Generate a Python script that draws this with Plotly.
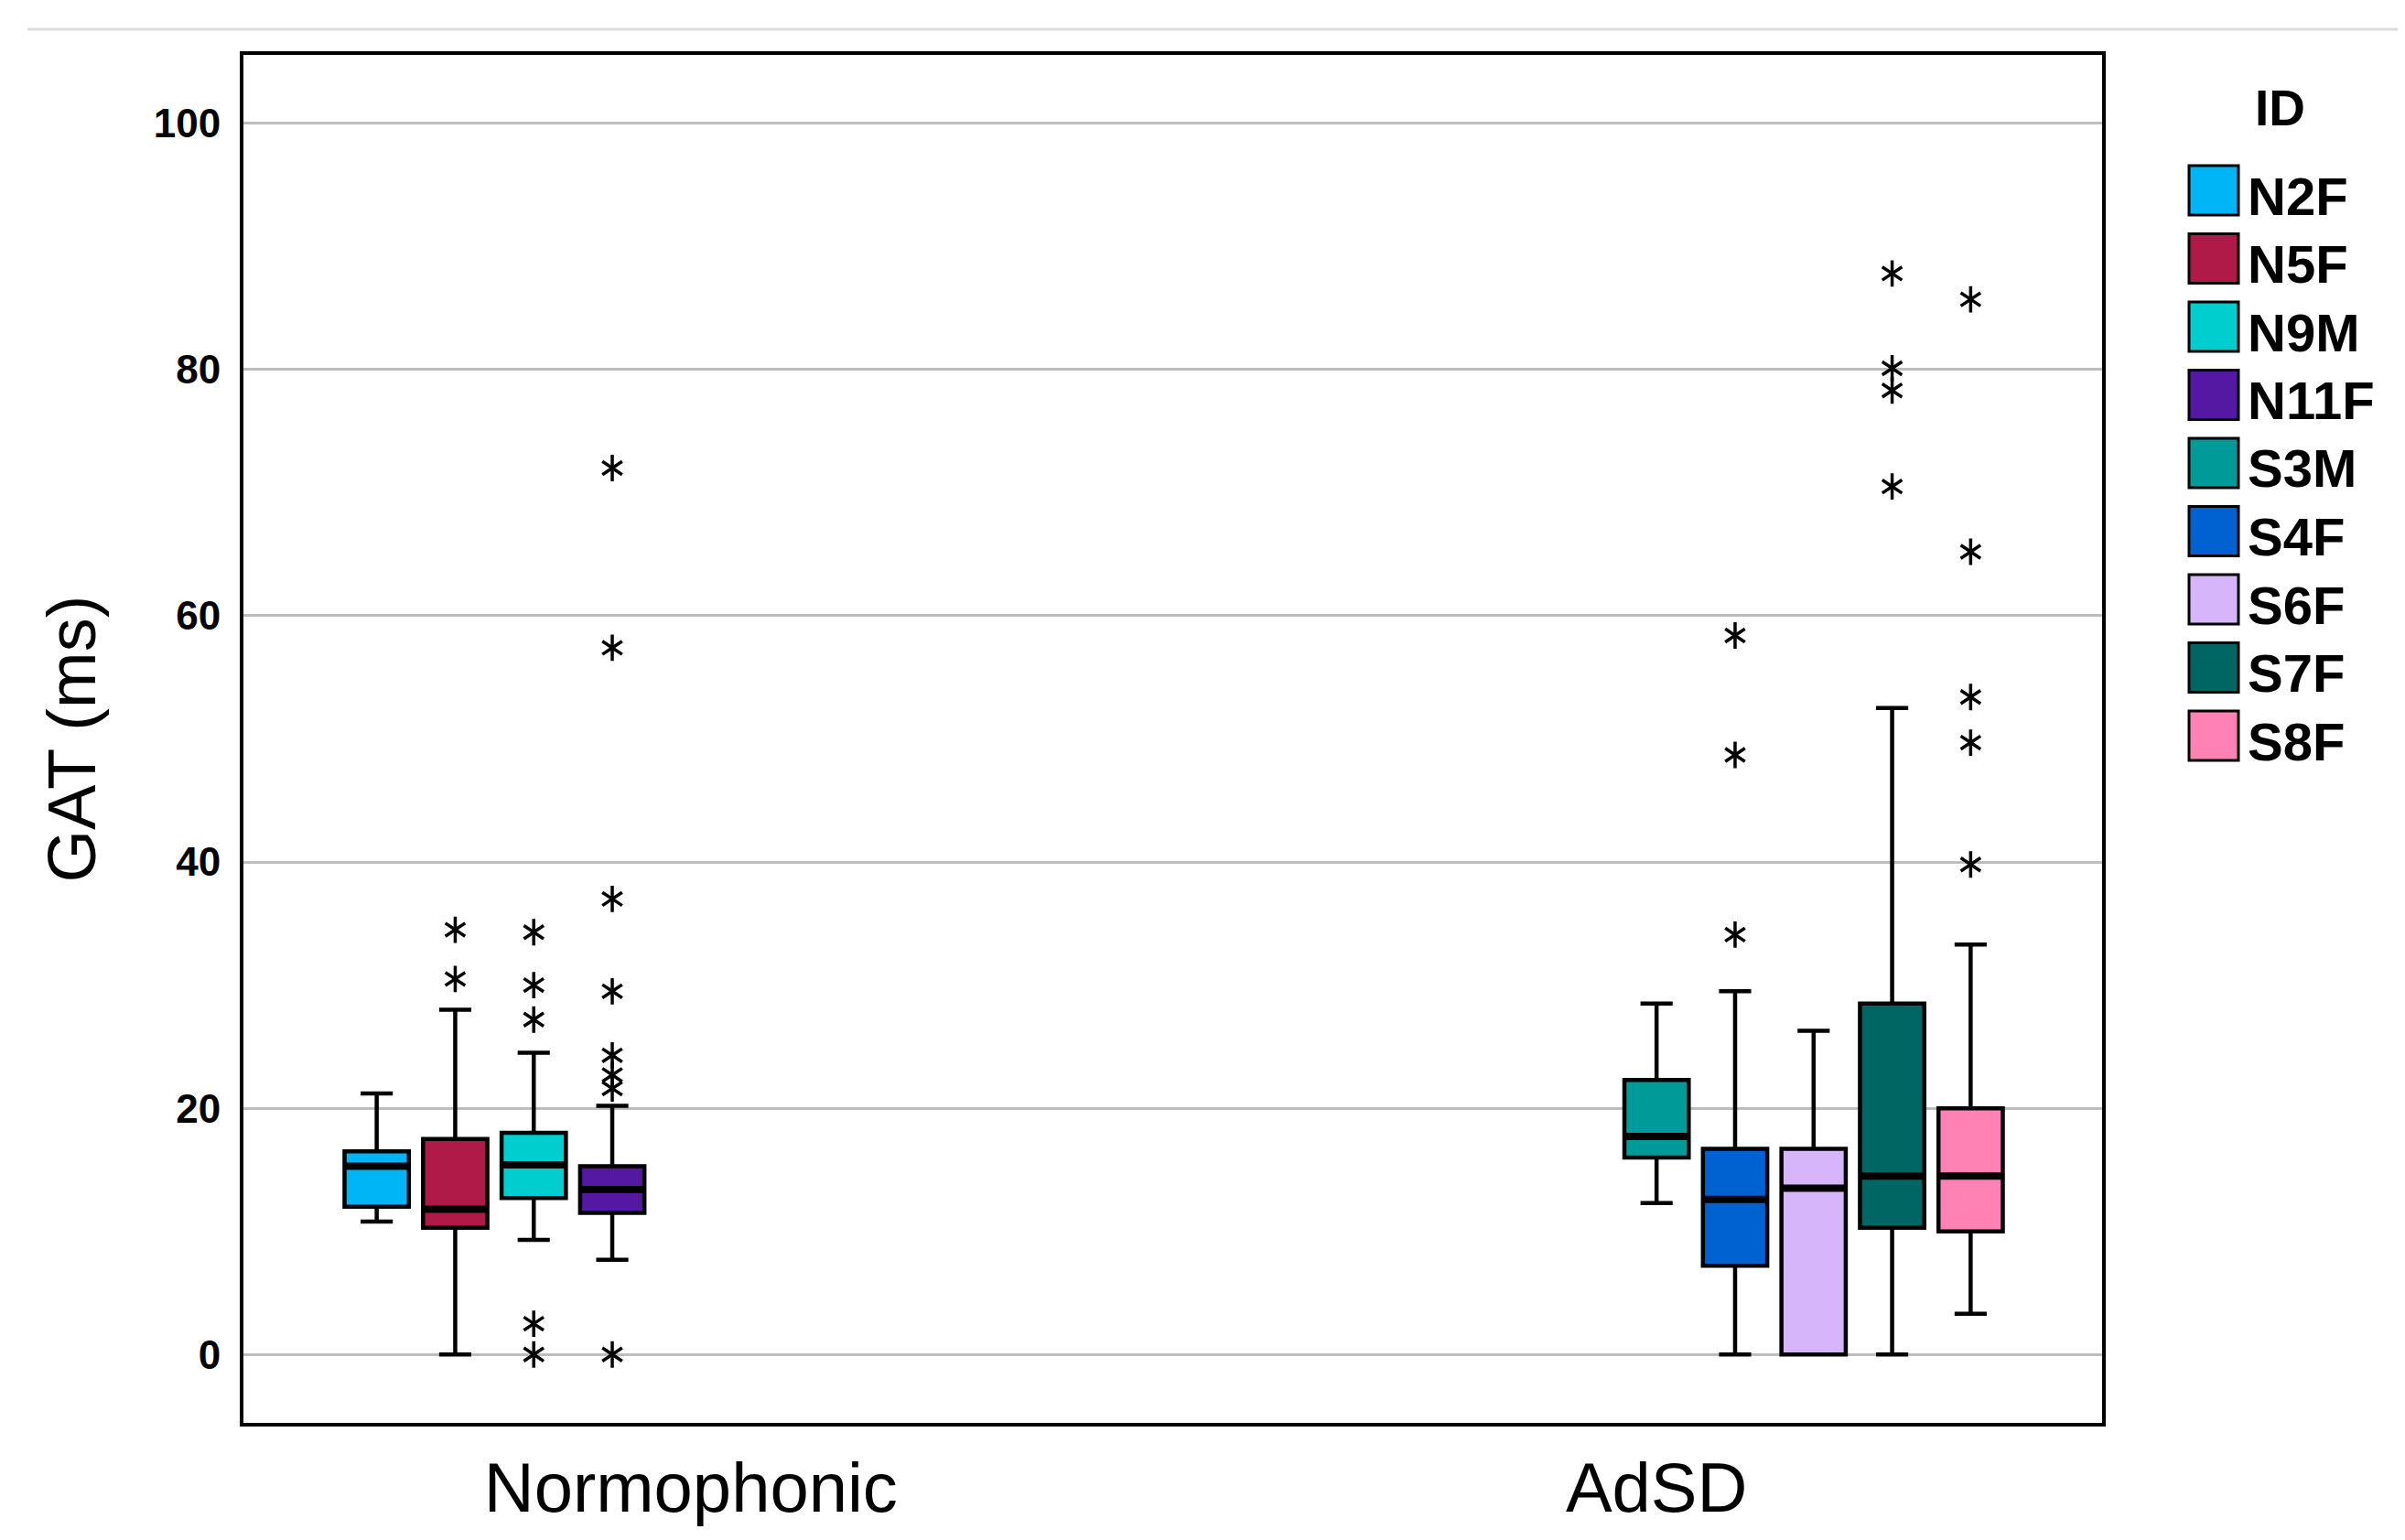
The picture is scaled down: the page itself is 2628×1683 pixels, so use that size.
import plotly.graph_objects as go

# ---------------- data ----------------
ids = ["N2F", "N5F", "N9M", "N11F", "S3M", "S4F", "S6F", "S7F", "S8F"]
groups = ["Normophonic", "AdSD"]
group_of = [0, 0, 0, 0, 1, 1, 1, 1, 1]
colors = ["#00B5F5", "#B01A48", "#00CDCD", "#5418A2", "#009B99",
          "#0062D0", "#D7B5FB", "#006663", "#FF82B4"]

q1 = [12.0, 10.3, 12.7, 11.5, 16.0, 7.2, 0.0, 10.3, 10.0]
median = [15.3, 11.8, 15.4, 13.4, 17.7, 12.6, 13.5, 14.5, 14.5]
q3 = [16.5, 17.5, 18.0, 15.3, 22.3, 16.7, 16.7, 28.5, 20.0]
lower_whisker = [10.8, 0.0, 9.3, 7.7, 12.3, 0.0, 0.0, 0.0, 3.3]
upper_whisker = [21.2, 28.0, 24.5, 20.2, 28.5, 29.5, 26.3, 52.5, 33.3]
outliers = [
    [],
    [34.5, 30.5],
    [34.3, 30.0, 27.2, 2.5, 0.0],
    [72.0, 57.4, 37.0, 29.5, 24.3, 22.7, 21.6, 0.0],
    [],
    [58.4, 48.7, 34.1],
    [],
    [87.8, 80.1, 78.3, 70.5],
    [85.7, 65.2, 53.4, 49.7, 39.8],
]
y_ticks = [0, 20, 40, 60, 80, 100]

# ---------------- layout constants ----------------
W, H = 2620, 1675
ML, MR, MT, MB = 258, 331, 52, 128
slot_step = 0.0813
box_w = 0.0666
n_slots = len(ids)
center_slot = (n_slots - 1) / 2

fig = go.Figure()

positions = [group_of[i] + (i - center_slot) * slot_step for i in range(n_slots)]

for i, name in enumerate(ids):
    x = positions[i]
    fig.add_trace(go.Box(
        x=[x], q1=[q1[i]], median=[median[i]], q3=[q3[i]],
        lowerfence=[lower_whisker[i]], upperfence=[upper_whisker[i]],
        width=box_w, whiskerwidth=0.5,
        fillcolor=colors[i], line=dict(color="black", width=4.5),
        boxpoints=False, name=name, showlegend=False, hoverinfo="skip",
    ))
    # thicker median line
    fig.add_trace(go.Scatter(
        x=[x - box_w / 2, x + box_w / 2], y=[median[i], median[i]],
        mode="lines", line=dict(color="black", width=8),
        showlegend=False, hoverinfo="skip",
    ))
    if outliers[i]:
        xs = [x] * len(outliers[i])
        for sym in ("y-up-open", "y-down-open"):
            fig.add_trace(go.Scatter(
                x=xs, y=outliers[i], mode="markers",
                marker=dict(symbol=sym, size=18, color="black",
                            line=dict(color="black", width=3.5)),
                showlegend=False, hoverinfo="skip",
            ))

# ---------------- manual legend ----------------
plot_w = W - ML - MR
plot_h = H - MT - MB


def px_x(px):
    return (px - ML) / plot_w


def px_y(py):
    return (H - MB - py) / plot_h


shapes = []
annotations = []
sw_l, sw_r = 2384, 2438
sw_top0, sw_h, pitch = 173, 54, 74.5
for i, name in enumerate(ids):
    top = sw_top0 + pitch * i
    shapes.append(dict(type="rect", xref="paper", yref="paper",
                       x0=px_x(sw_l), x1=px_x(sw_r),
                       y0=px_y(top + sw_h), y1=px_y(top),
                       fillcolor=colors[i], line=dict(color="black", width=3)))
    annotations.append(dict(xref="paper", yref="paper", x=px_x(2446), y=px_y(top + 33),
                            xanchor="left", yanchor="middle", showarrow=False,
                            text=name,
                            font=dict(family="Liberation Sans, Arial", size=58,
                                      color="black", weight="bold")))
annotations.append(dict(xref="paper", yref="paper", x=px_x(2483), y=px_y(110),
                        xanchor="center", yanchor="middle", showarrow=False,
                        text="ID",
                        font=dict(family="Liberation Sans, Arial", size=55,
                                  color="black", weight="bold")))
# y-axis title
annotations.append(dict(xref="paper", yref="paper", x=px_x(70), y=0.5,
                        xanchor="center", yanchor="middle", showarrow=False,
                        text="GAT (ms)", textangle=-90,
                        font=dict(family="Liberation Sans, Arial", size=74, color="black")))
# light top rule
shapes.append(dict(type="line", xref="paper", yref="paper",
                   x0=px_x(22), x1=px_x(W), y0=px_y(24), y1=px_y(24),
                   line=dict(color="#DCDCDC", width=3)))

fig.update_layout(
    width=W, height=H,
    margin=dict(l=ML, r=MR, t=MT, b=MB, pad=0),
    paper_bgcolor="white", plot_bgcolor="white",
    showlegend=False,
    shapes=shapes, annotations=annotations,
    xaxis=dict(
        range=[-0.4632, 1.4613], tickvals=[0, 1], ticktext=groups,
        showgrid=False, zeroline=False, ticks="",
        showline=True, mirror=True, linecolor="black", linewidth=4,
        tickfont=dict(family="Liberation Sans, Arial", size=76, color="black"),
        ticklabelstandoff=2,
    ),
    yaxis=dict(
        range=[-5.556, 105.556], tickvals=y_ticks,
        ticktext=[str(v) for v in y_ticks],
        showgrid=True, gridcolor="#BDBDBD", gridwidth=2.5,
        zeroline=False, ticks="",
        showline=True, mirror=True, linecolor="black", linewidth=4,
        tickfont=dict(family="Liberation Sans, Arial", size=44, color="black",
                      weight="bold"),
        ticklabelstandoff=12,
    ),
)

fig.write_html("out.html")
